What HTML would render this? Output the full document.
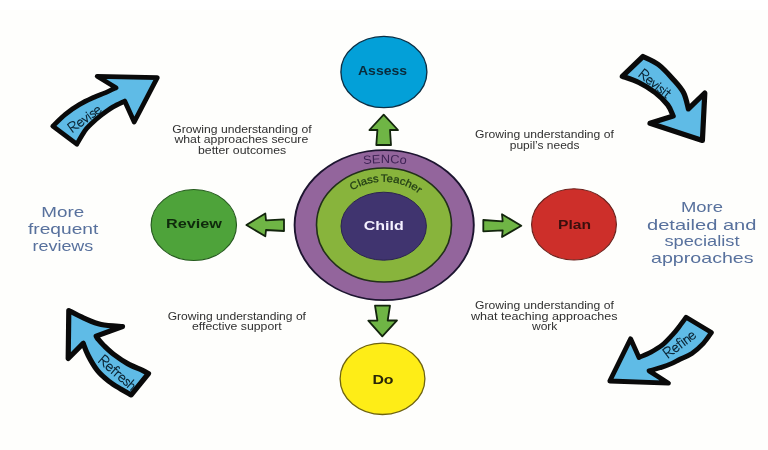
<!DOCTYPE html>
<html>
<head>
<meta charset="utf-8">
<title>Assess Plan Do Review</title>
<style>
  html, body { margin: 0; padding: 0; background: #fefefc; }
  body { width: 768px; height: 450px; overflow: hidden; font-family: "Liberation Sans", sans-serif; }
  svg { display: block; font-family: "Liberation Sans", sans-serif; filter: blur(0.45px); }
  .lbl { font-size: 10px; fill: #303030; }
  .side { font-size: 14.5px; fill: #58719d; }
  .node { font-size: 13px; font-weight: bold; }
  .hand { font-size: 14px; fill: #0e2a3a; }
  .hw { fill: none; stroke: #0d2838; stroke-linecap: round; stroke-linejoin: round; vector-effect: non-scaling-stroke; }
  .ga { fill: #6fb545; stroke: #13250d; stroke-width: 1.8; stroke-linejoin: round; }
  .bi { fill: none; stroke: #0a0a0a; stroke-linejoin: round; }
  .ba { fill: #5fbbe6; stroke: #0a0a0a; stroke-linejoin: round; stroke-linecap: round; }
</style>
</head>
<body>
<svg width="768" height="450" viewBox="0 0 768 450">
  <rect x="0" y="0" width="768" height="450" fill="#fefefc"/>
  <rect x="0" y="0" width="768" height="10" fill="#ffffff"/>

  <!-- central rings -->
  <ellipse cx="384.2" cy="225.1" rx="89.6" ry="75" fill="#93659c" stroke="#1d1530" stroke-width="1.9"/>
  <ellipse cx="384" cy="225" rx="67.5" ry="57" fill="#88b43c" stroke="#22301a" stroke-width="1.6"/>
  <ellipse cx="383.7" cy="226.2" rx="42.7" ry="34" fill="#40346f" stroke="#2a2350" stroke-width="1"/>

  <!-- outer nodes -->
  <ellipse cx="383.9" cy="72" rx="43" ry="35.6" fill="#03a0d8" stroke="#0b2f45" stroke-width="1.35"/>
  <ellipse cx="193.8" cy="225" rx="42.7" ry="35.5" fill="#4ea33a" stroke="#255a1e" stroke-width="1.15"/>
  <ellipse cx="574" cy="224.4" rx="42.4" ry="35.6" fill="#cd2f2a" stroke="#6b211c" stroke-width="1.15"/>
  <ellipse cx="382.5" cy="378.8" rx="42.4" ry="35.7" fill="#feed17" stroke="#6e6310" stroke-width="1.3"/>

  <!-- green block arrows -->
  <path class="ga" d="M383.7 114.7 L398 130 L390 130 L391 145 L376.3 145 L377.4 130 L369.4 130 Z"/>
  <path class="ga" d="M246.4 225 L265.3 213.4 L266 220.3 L284 219.3 L284 231 L266 230 L265.3 236.3 Z"/>
  <path class="ga" d="M521.3 225.7 L502 214.3 L502.7 221.3 L483.3 220 L483.3 231.3 L502.7 230.3 L502 237 Z"/>
  <path class="ga" d="M382.3 336.3 L368.3 320.6 L377.4 320.5 L375 305.7 L390 305.7 L387.7 320.5 L397 320.3 Z"/>

  <!-- blue hand-drawn arrows -->
  <defs>
    <path id="ba0" d="M52.8 126.2 C54.9 124.2 60.8 117.9 65.3 114.3 C69.8 110.7 74.9 107.2 79.7 104.4 C84.5 101.6 89.9 99.2 94.2 97.2 C98.5 95.2 102.1 94.2 105.7 92.6 C109.3 91.0 114.3 88.6 116.0 87.8 L97.2 76.3 L157.3 77.6 L134.2 122.0 L124.7 101.1 C122.8 102.1 116.9 104.6 113.1 106.9 C109.2 109.2 105.4 112.0 101.6 114.9 C97.8 117.8 93.3 121.8 90.5 124.5 C87.7 127.2 87.1 127.6 84.8 130.9 C82.5 134.2 78.1 142.0 76.8 144.2 Z"/>
    <clipPath id="bc0"><use href="#ba0"/></clipPath>
    <path id="ba1" d="M643.0 56.5 C645.5 57.8 653.3 60.8 658.3 64.5 C663.3 68.2 668.6 74.2 672.8 78.9 C677.0 83.6 681.0 87.7 683.6 92.7 C686.2 97.7 687.6 106.2 688.4 108.9 L704.8 93.0 L702.4 140.5 L650.0 123.2 L673.2 116.1 C672.3 114.2 670.7 108.8 667.7 104.9 C664.7 101.0 660.2 96.4 655.4 92.7 C650.6 89.0 644.3 85.2 638.8 82.5 C633.3 79.8 625.0 77.3 622.3 76.3 Z"/>
    <clipPath id="bc1"><use href="#ba1"/></clipPath>
    <path id="ba2" d="M68.8 310.5 C71.3 311.8 78.5 315.8 83.9 318.1 C89.3 320.4 94.8 323.1 101.2 324.5 C107.6 325.9 119.0 326.2 122.5 326.5 L96.2 336.1 C96.5 336.6 96.7 337.4 98.0 339.0 C99.3 340.6 101.1 342.9 103.8 345.5 C106.5 348.1 109.9 351.5 113.9 354.5 C117.9 357.5 122.9 361.0 127.6 363.6 C132.3 366.2 138.5 368.5 142.0 370.1 C145.5 371.8 147.4 372.9 148.5 373.5 L131.2 394.9 C129.5 393.9 124.8 391.5 121.1 389.2 C117.4 386.9 112.8 384.3 108.8 381.2 C104.8 378.1 100.7 374.7 97.3 370.4 C93.9 366.1 90.5 360.0 88.2 355.5 C85.9 351.0 84.0 345.3 83.2 343.3 L68.2 358.5 Z"/>
    <clipPath id="bc2"><use href="#ba2"/></clipPath>
    <path id="ba3" d="M609.8 381.0 L630.6 338.8 L639.0 357.5 C640.9 356.6 646.6 354.4 650.5 352.4 C654.4 350.3 658.5 348.1 662.1 345.2 C665.7 342.3 669.4 338.1 672.2 335.1 C675.0 332.1 676.6 330.0 678.9 327.0 C681.2 324.0 684.9 318.9 686.1 317.3 L711.5 332.5 C710.1 334.3 706.7 339.8 703.4 343.3 C700.1 346.8 695.9 350.7 691.9 353.4 C687.9 356.1 682.8 357.8 679.5 359.5 C676.2 361.2 675.1 362.0 672.0 363.4 C668.9 364.8 664.4 366.4 660.6 367.6 C656.8 368.9 651.0 370.3 649.1 370.9 L668.5 383.2 Z"/>
    <clipPath id="bc3"><use href="#ba3"/></clipPath>
  </defs>
  <use href="#ba0" class="ba" stroke-width="4.8"/>
  <use href="#ba1" class="ba" stroke-width="5.2"/>
  <use href="#ba2" class="ba" stroke-width="5.2"/>
  <use href="#ba3" class="ba" stroke-width="4.8"/>

  <!-- hand text on blue arrows -->
  <path class="hw" stroke-width="1.15" transform="translate(72.8,132.4) rotate(-35.6) scale(1.201,-1.000)" d="M0.3 0 L0.3 9.5 M0.3 9.3 C3.5 10.3 6.3 9 6 6.8 C5.7 4.6 2.5 4.3 0.8 4.6 M2 4.5 C3.2 3 4.5 1 6.3 0M7.9 3.2 L11.8 3.4 C12 5.5 10.8 6.3 9.8 6.3 C8.4 6.3 7.5 4.8 7.5 3.1 C7.5 1.2 8.5 0 10 0 C11 0 11.7 0.5 12.1 1.3M13 6.2 L15.1 0 L17.4 6.2M18.8 0 L18.8 6.2 M18.8 8.2 L18.8 8.7M24.1 5.3 C23.5 6.4 20.9 6.6 20.9 4.8 C20.9 3.2 24.1 3.4 24.1 1.5 C24.1 -0.2 21.4 -0.3 20.5 1M25.5 3.2 L29.4 3.4 C29.6 5.5 28.4 6.3 27.4 6.3 C26 6.3 25.1 4.8 25.1 3.1 C25.1 1.2 26.1 0 27.6 0 C28.6 0 29.3 0.5 29.7 1.3"/><!--Revise-->
  <path class="hw" stroke-width="1.15" transform="translate(638.5,76.2) rotate(38.5) scale(1.154,-1.000)" d="M0.3 0 L0.3 9.5 M0.3 9.3 C3.5 10.3 6.3 9 6 6.8 C5.7 4.6 2.5 4.3 0.8 4.6 M2 4.5 C3.2 3 4.5 1 6.3 0M7.9 3.2 L11.8 3.4 C12 5.5 10.8 6.3 9.8 6.3 C8.4 6.3 7.5 4.8 7.5 3.1 C7.5 1.2 8.5 0 10 0 C11 0 11.7 0.5 12.1 1.3M13 6.2 L15.1 0 L17.4 6.2M18.8 0 L18.8 6.2 M18.8 8.2 L18.8 8.7M24.1 5.3 C23.5 6.4 20.9 6.6 20.9 4.8 C20.9 3.2 24.1 3.4 24.1 1.5 C24.1 -0.2 21.4 -0.3 20.5 1M25.8 0 L25.8 6.2 M25.8 8.2 L25.8 8.7M29 9 L29 0.8 C29 0 29.8 -0.1 30.5 0.2 M27.4 6.2 L30.8 6.2"/><!--Revisit-->
  <path class="hw" stroke-width="1.15" transform="translate(98.3,362.1) rotate(41) scale(1.202,-1.030)" d="M0.3 0 L0.3 9.5 M0.3 9.3 C3.5 10.3 6.3 9 6 6.8 C5.7 4.6 2.5 4.3 0.8 4.6 M2 4.5 C3.2 3 4.5 1 6.3 0M7.9 3.2 L11.8 3.4 C12 5.5 10.8 6.3 9.8 6.3 C8.4 6.3 7.5 4.8 7.5 3.1 C7.5 1.2 8.5 0 10 0 C11 0 11.7 0.5 12.1 1.3M16.6 9 C15.8 10 14.4 9.8 14.4 8 L14.4 0 M13 6.2 L16.2 6.2M17.6 6.2 L17.6 0 M17.6 4.2 C18 5.6 19.3 6.6 20.6 6M21.7 3.2 L25.6 3.4 C25.8 5.5 24.6 6.3 23.6 6.3 C22.2 6.3 21.3 4.8 21.3 3.1 C21.3 1.2 22.3 0 23.8 0 C24.8 0 25.5 0.5 25.9 1.3M30.5 5.3 C29.9 6.4 27.3 6.6 27.3 4.8 C27.3 3.2 30.5 3.4 30.5 1.5 C30.5 -0.2 27.8 -0.3 26.9 1M32 9.5 L32 0 M32 4 C32.5 6 35.6 7 35.6 4 L35.6 0"/><!--Refresh-->
  <path class="hw" stroke-width="1.15" transform="translate(668.5,358) rotate(-37) scale(1.175,-1.050)" d="M0.3 0 L0.3 9.5 M0.3 9.3 C3.5 10.3 6.3 9 6 6.8 C5.7 4.6 2.5 4.3 0.8 4.6 M2 4.5 C3.2 3 4.5 1 6.3 0M7.9 3.2 L11.8 3.4 C12 5.5 10.8 6.3 9.8 6.3 C8.4 6.3 7.5 4.8 7.5 3.1 C7.5 1.2 8.5 0 10 0 C11 0 11.7 0.5 12.1 1.3M16.6 9 C15.8 10 14.4 9.8 14.4 8 L14.4 0 M13 6.2 L16.2 6.2M17.8 0 L17.8 6.2 M17.8 8.2 L17.8 8.7M20 6.2 L20 0 M20 4 C20.5 6 23.6 7 23.6 4 L23.6 0M25.3 3.2 L29.2 3.4 C29.4 5.5 28.2 6.3 27.2 6.3 C25.8 6.3 24.9 4.8 24.9 3.1 C24.9 1.2 25.9 0 27.4 0 C28.4 0 29.1 0.5 29.5 1.3"/><!--Refine-->

  <!-- node labels -->
  <text class="node" fill="#0a2a3a" x="358" y="75.2" textLength="49" lengthAdjust="spacingAndGlyphs">Assess</text>
  <text class="node" fill="#0f2a0c" x="166" y="227.7" textLength="56" lengthAdjust="spacingAndGlyphs">Review</text>
  <text class="node" fill="#3a0f0d" x="558" y="229.4" textLength="33" lengthAdjust="spacingAndGlyphs">Plan</text>
  <text class="node" fill="#2a2608" x="372.4" y="384" textLength="21.2" lengthAdjust="spacingAndGlyphs">Do</text>
  <text class="node" x="363.7" y="230" textLength="40" lengthAdjust="spacingAndGlyphs" style="fill:#f4f0ff;font-size:13.5px">Child</text>

  <!-- ring labels -->
  <defs>
    <path id="arcS" d="M330 172 Q385 154 440 172"/>
    <path id="arcC" d="M332 226.7 A52 45 0 0 1 436 226.7"/>
  </defs>
  <text font-size="12" fill="#3f2456"><textPath href="#arcS" startOffset="50%" text-anchor="middle" textLength="43" lengthAdjust="spacingAndGlyphs">SENCo</textPath></text>
  <text font-size="10.5" fill="#1f3a14" stroke="#1f3a14" stroke-width="0.25" word-spacing="-1.2" transform="rotate(2.5 384 226)"><textPath href="#arcC" startOffset="50%" text-anchor="middle" textLength="71" lengthAdjust="spacingAndGlyphs">Class Teacher</textPath></text>

  <!-- descriptive labels -->
  <text class="lbl" x="172.2" y="132.7" textLength="139.4" lengthAdjust="spacingAndGlyphs">Growing understanding of</text>
  <text class="lbl" x="174.4" y="143.4" textLength="133.9" lengthAdjust="spacingAndGlyphs">what approaches secure</text>
  <text class="lbl" x="198" y="153.9" textLength="88.2" lengthAdjust="spacingAndGlyphs">better outcomes</text>

  <text class="lbl" x="475" y="138.3" textLength="138.8" lengthAdjust="spacingAndGlyphs">Growing understanding of</text>
  <text class="lbl" x="509.8" y="148.8" textLength="69.7" lengthAdjust="spacingAndGlyphs">pupil’s needs</text>

  <text class="lbl" x="167.7" y="320.4" textLength="138.3" lengthAdjust="spacingAndGlyphs">Growing understanding of</text>
  <text class="lbl" x="192" y="330.4" textLength="89.7" lengthAdjust="spacingAndGlyphs">effective support</text>

  <text class="lbl" x="475" y="309.2" textLength="138.8" lengthAdjust="spacingAndGlyphs">Growing understanding of</text>
  <text class="lbl" x="471" y="320" textLength="146.6" lengthAdjust="spacingAndGlyphs">what teaching approaches</text>
  <text class="lbl" x="532" y="330.4" textLength="25.4" lengthAdjust="spacingAndGlyphs">work</text>

  <!-- side labels -->
  <text class="side" x="41.3" y="216.7" textLength="42.9" lengthAdjust="spacingAndGlyphs">More</text>
  <text class="side" x="28" y="234" textLength="70.3" lengthAdjust="spacingAndGlyphs">frequent</text>
  <text class="side" x="32.5" y="251.4" textLength="60.8" lengthAdjust="spacingAndGlyphs">reviews</text>

  <text class="side" x="681" y="211.8" textLength="42" lengthAdjust="spacingAndGlyphs">More</text>
  <text class="side" x="647" y="229.8" textLength="109.4" lengthAdjust="spacingAndGlyphs">detailed and</text>
  <text class="side" x="664.4" y="246.4" textLength="75.2" lengthAdjust="spacingAndGlyphs">specialist</text>
  <text class="side" x="651" y="263.4" textLength="102.6" lengthAdjust="spacingAndGlyphs">approaches</text>
</svg>
</body>
</html>
